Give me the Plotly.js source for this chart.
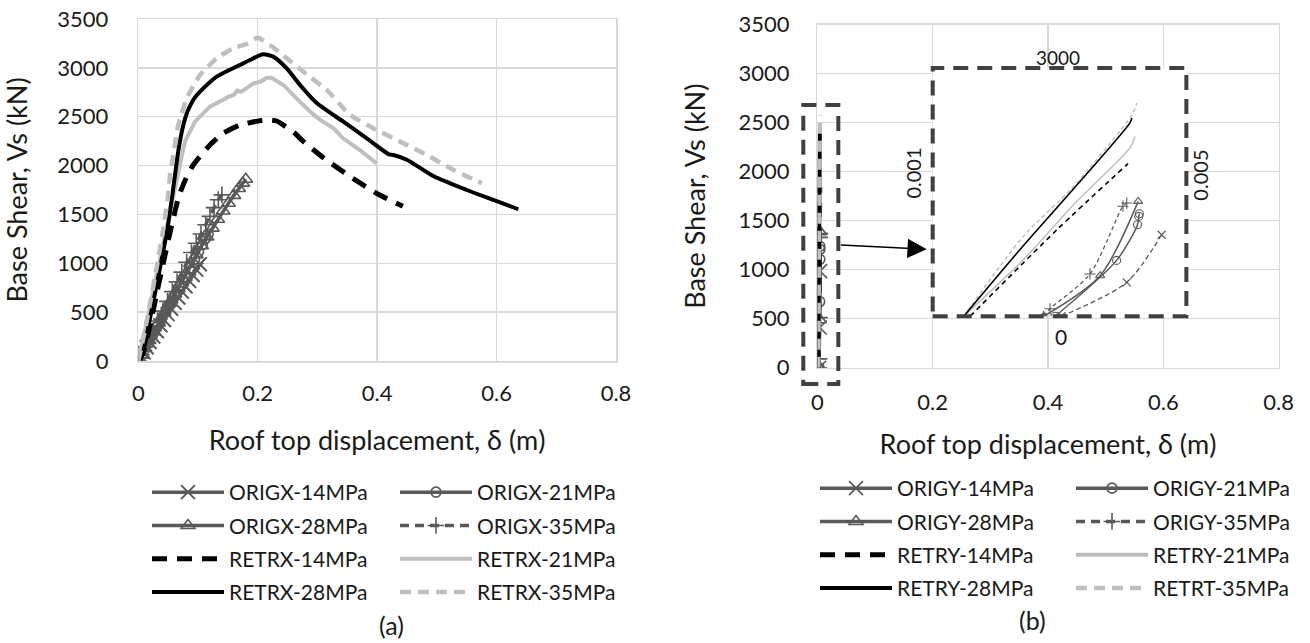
<!DOCTYPE html>
<html>
<head>
<meta charset="utf-8">
<script src="https://cdn.plot.ly/plotly-3.0.1.min.js"></script>
<style>html,body{margin:0;padding:0;background:#fff;}#chart{width:1310px;height:643px;}</style>
</head>
<body>
<div id="chart"></div>
<script>
// ---------- tick values ----------
const xTicks = [0, 0.2, 0.4, 0.6, 0.8];
const yTicks = [0, 500, 1000, 1500, 2000, 2500, 3000, 3500];

// ---------- (a) X direction ----------
const origx14_x = [0, 0.004, 0.009, 0.014, 0.019, 0.025, 0.031, 0.037, 0.043, 0.049, 0.055, 0.061, 0.067, 0.073, 0.079, 0.085, 0.091, 0.097, 0.103];
const origx14_y = [0, 40, 90, 140, 195, 250, 305, 365, 420, 480, 535, 595, 650, 710, 765, 820, 880, 935, 990];
const origx21_x = [0, 0.005, 0.011, 0.017, 0.024, 0.031, 0.038, 0.046, 0.054, 0.062, 0.070, 0.078, 0.086, 0.094, 0.101, 0.107, 0.112, 0.117];
const origx21_y = [0, 55, 120, 190, 265, 345, 420, 505, 590, 680, 770, 860, 950, 1040, 1120, 1190, 1250, 1300];
const origx28_x = [0, 0.005, 0.011, 0.018, 0.026, 0.034, 0.043, 0.052, 0.061, 0.070, 0.079, 0.088, 0.097, 0.106, 0.115, 0.124, 0.133, 0.142, 0.151, 0.160, 0.168, 0.175, 0.180];
const origx28_y = [0, 60, 130, 210, 300, 390, 490, 590, 690, 790, 890, 990, 1085, 1180, 1270, 1360, 1450, 1535, 1615, 1695, 1765, 1820, 1860];
const origx35_x = [0, 0.005, 0.011, 0.018, 0.025, 0.033, 0.041, 0.049, 0.057, 0.065, 0.073, 0.081, 0.089, 0.097, 0.105, 0.113, 0.120, 0.127, 0.134, 0.140];
const origx35_y = [0, 65, 140, 225, 310, 410, 510, 610, 710, 810, 910, 1010, 1110, 1205, 1300, 1395, 1480, 1570, 1650, 1700];

const retrx14_x = [0, 0.008, 0.021, 0.032, 0.043, 0.0545, 0.068, 0.080, 0.092, 0.120, 0.142, 0.170, 0.200, 0.221, 0.232, 0.2625, 0.2735, 0.310, 0.355, 0.401, 0.443];
const retrx14_y = [0, 82, 400, 727, 1034, 1351, 1689, 1870, 2006, 2211, 2330, 2415, 2455, 2466, 2456, 2330, 2262, 2080, 1886, 1709, 1583];
const retrx21_x = [0, 0.010, 0.020, 0.030, 0.040, 0.050, 0.060, 0.0698, 0.078, 0.095, 0.120, 0.132, 0.140, 0.150, 0.160, 0.166, 0.172, 0.182, 0.193, 0.205, 0.215, 0.223, 0.243, 0.265, 0.288, 0.304, 0.327, 0.343, 0.371, 0.399];
const retrx21_y = [0, 270, 560, 860, 1150, 1450, 1750, 2006, 2245, 2449, 2603, 2640, 2671, 2700, 2725, 2770, 2755, 2800, 2842, 2860, 2899, 2899, 2825, 2688, 2551, 2470, 2381, 2279, 2159, 2023];
const retrx28_x = [0, 0.006, 0.020, 0.039, 0.050, 0.0615, 0.067, 0.0754, 0.081, 0.0866, 0.094, 0.1034, 0.1313, 0.170, 0.187, 0.209, 0.226, 0.2486, 0.2709, 0.2988, 0.3434, 0.3826, 0.420, 0.427, 0.4496, 0.494, 0.550, 0.5947, 0.6365];
const retrx28_y = [0, 44, 450, 1034, 1400, 1904, 2150, 2415, 2530, 2610, 2690, 2756, 2910, 3029, 3081, 3139, 3115, 2995, 2825, 2640, 2449, 2279, 2115, 2108, 2060, 1893, 1750, 1648, 1553];
const retrx35_x = [0, 0.010, 0.020, 0.030, 0.040, 0.050, 0.0531, 0.0586, 0.067, 0.081, 0.1034, 0.1313, 0.159, 0.184, 0.200, 0.2206, 0.2486, 0.2764, 0.318, 0.3546, 0.3993, 0.4384, 0.483, 0.5276, 0.5752];
const retrx35_y = [0, 280, 600, 930, 1280, 1700, 1904, 2108, 2415, 2688, 2927, 3098, 3200, 3251, 3309, 3234, 3098, 2961, 2760, 2518, 2364, 2245, 2108, 1955, 1819];

// ---------- (b) Y direction (values of the enlarged inset, displacement in m) ----------
const origy14_x = [0.00303, 0.00406, 0.00461];
const origy14_y = [0, 410, 985];
const origy21_x = [0.00293, 0.00390, 0.00423, 0.00425, 0.00426];
const origy21_y = [0, 675, 1106, 1207, 1239];
const origy28_x = [0.00275, 0.00364, 0.00424];
const origy28_y = [0, 490, 1388];
const origy35_x = [0.00275, 0.00285, 0.00348, 0.00400, 0.00406];
const origy35_y = [0, 90, 511, 1330, 1368];
const retry14_x = [0.00159, 0.00296, 0.00408];
const retry14_y = [0, 1046, 1844];
const retry21_x = [0.00149, 0.00243, 0.00322, 0.00411, 0.00419];
const retry21_y = [0, 683, 1348, 2034, 2173];
const retry28_x = [0.00149, 0.00233, 0.00411, 0.00414];
const retry28_y = [0, 764, 2336, 2396];
const retry35_x = [0.00149, 0.00243, 0.00322, 0.00414, 0.00422];
const retry35_y = [0, 965, 1569, 2435, 2577];

// inset frame in main (b) axis units, inset axis ranges
const insetFrame = {x0: 0.2, x1: 0.64, y0: 525, y1: 3058};
const insetXRange = [0.001, 0.005];
const insetYRange = [0, 3000];
const smallFrame = {x0: -0.0245, x1: 0.0363, y0: -166, y1: 2681};

// ---------- styling ----------
const FONT = 'Lato, "Noto Sans", sans-serif';
const TXT = '#1a1a1a';
const DARK = '#595959';
const LIGHT = '#bfbfbf';
const GRID = '#d9d9d9';

const W = 1310, H = 643;
const domA = {x: [138.3 / W, 616 / W], y: [1 - 361 / H, 1 - 19 / H]};
const domB = {x: [817.4 / W, 1278.6 / W], y: [1 - 367.7 / H, 1 - 24.7 / H]};

function axisLin(dom, range, v) { return dom[0] + (v - range[0]) / (range[1] - range[0]) * (dom[1] - dom[0]); }
const insetDomX = [axisLin(domB.x, [0, 0.8], insetFrame.x0), axisLin(domB.x, [0, 0.8], insetFrame.x1)];
const insetDomY = [axisLin(domB.y, [0, 3500], insetFrame.y0), axisLin(domB.y, [0, 3500], insetFrame.y1)];

const traces = [];
function add(x, y, opt) { traces.push(Object.assign({x: x, y: y, type: 'scatter'}, opt)); }

// (a)
add(origx14_x, origx14_y, {name: 'ORIGX-14MPa', legend: 'legend', legendgroup: 'a1', mode: 'lines+markers',
  line: {color: DARK, width: 3.5}, marker: {symbol: 'x-thin-open', size: 14, color: DARK, line: {width: 2, color: DARK}}});
add(origx21_x, origx21_y, {name: 'ORIGX-21MPa', legend: 'legend2', legendgroup: 'a2', mode: 'lines+markers',
  line: {color: DARK, width: 3.5}, marker: {symbol: 'circle-open', size: 10, color: DARK, line: {width: 1.6, color: DARK}}});
add(origx28_x, origx28_y, {name: 'ORIGX-28MPa', legend: 'legend', legendgroup: 'a3', mode: 'lines+markers',
  line: {color: DARK, width: 3.5}, marker: {symbol: 'triangle-up-open', size: 12, color: DARK, line: {width: 1.6, color: DARK}}});
add(origx35_x, origx35_y, {name: 'ORIGX-35MPa', legend: 'legend2', legendgroup: 'a4', mode: 'lines+markers',
  line: {color: DARK, width: 3.5, dash: '9px,6px'}, marker: {symbol: 'cross-thin-open', size: 12, color: DARK, line: {width: 1.6, color: DARK}}});
add(retrx14_x, retrx14_y, {name: 'RETRX-14MPa', legend: 'legend', legendgroup: 'a5', mode: 'lines',
  line: {color: '#000', width: 5, dash: '15px,10px', shape: 'spline', smoothing: 0.5}});
add(retrx21_x, retrx21_y, {name: 'RETRX-21MPa', legend: 'legend2', legendgroup: 'a6', mode: 'lines',
  line: {color: LIGHT, width: 4}});
add(retrx28_x, retrx28_y, {name: 'RETRX-28MPa', legend: 'legend', legendgroup: 'a7', mode: 'lines',
  line: {color: '#000', width: 4, shape: 'spline', smoothing: 0.6}});
add(retrx35_x, retrx35_y, {name: 'RETRX-35MPa', legend: 'legend2', legendgroup: 'a8', mode: 'lines',
  line: {color: LIGHT, width: 4.5, dash: '11px,7px', shape: 'spline', smoothing: 0.5}});

// (b) main axes
const bMain = [
  [origy14_x, origy14_y, 'ORIGY-14MPa', 'legend3', {color: DARK, width: 3.5}, {symbol: 'x-thin-open', size: 14}],
  [origy21_x, origy21_y, 'ORIGY-21MPa', 'legend4', {color: DARK, width: 3.5}, {symbol: 'circle-open', size: 10}],
  [origy28_x, origy28_y, 'ORIGY-28MPa', 'legend3', {color: DARK, width: 3.5}, {symbol: 'triangle-up-open', size: 12}],
  [origy35_x, origy35_y, 'ORIGY-35MPa', 'legend4', {color: DARK, width: 3.5, dash: '9px,6px'}, {symbol: 'cross-thin-open', size: 12}],
  [retry14_x, retry14_y, 'RETRY-14MPa', 'legend3', {color: '#000', width: 5, dash: '15px,10px'}, null],
  [retry21_x, retry21_y, 'RETRY-21MPa', 'legend4', {color: LIGHT, width: 4}, null],
  [retry28_x, retry28_y, 'RETRY-28MPa', 'legend3', {color: '#000', width: 4}, null],
  [retry35_x, retry35_y, 'RETRT-35MPa', 'legend4', {color: LIGHT, width: 4.5, dash: '11px,7px'}, null]
];
bMain.forEach(function (s, i) {
  const o = {name: s[2], legend: s[3], legendgroup: 'b' + i, xaxis: 'x2', yaxis: 'y2', line: s[4],
    mode: s[5] ? 'lines+markers' : 'lines'};
  if (s[5]) o.marker = {symbol: s[5].symbol, size: s[5].size, color: DARK, line: {width: 1.6, color: DARK}};
  add(s[0], s[1], o);
});
// (b) enlarged inset
const bInset = [
  [retry21_x, retry21_y, {color: LIGHT, width: 1.5}, null],
  [retry35_x, retry35_y, {color: LIGHT, width: 1.5, dash: '4px,3px'}, null],
  [retry14_x, retry14_y, {color: '#000', width: 1.6, dash: '5px,4px'}, null],
  [retry28_x, retry28_y, {color: '#000', width: 1.6}, null],
  [origy14_x, origy14_y, {color: DARK, width: 1.3, dash: '5px,3px'}, 'x-thin-open'],
  [origy35_x, origy35_y, {color: DARK, width: 1.3, dash: '4px,3px'}, 'cross-thin-open'],
  [origy21_x, origy21_y, {color: DARK, width: 1.5}, 'circle-open'],
  [origy28_x, origy28_y, {color: DARK, width: 1.5}, 'triangle-up-open']
];
bInset.forEach(function (s) {
  const o = {xaxis: 'x3', yaxis: 'y3', showlegend: false, hoverinfo: 'skip',
    line: Object.assign({shape: 'spline', smoothing: 0.8}, s[2]), mode: s[3] ? 'lines+markers' : 'lines'};
  if (s[3]) o.marker = {symbol: s[3], size: 8, color: DARK, line: {width: 1.1, color: DARK}};
  add(s[0], s[1], o);
});

function mainAxis(dom, range, vals, anchor, title, standoff, lblStand) {
  return {
    domain: dom, range: range, tickvals: vals, anchor: anchor,
    showgrid: true, gridcolor: GRID, gridwidth: 1.5, zeroline: false,
    showline: true, mirror: true, linecolor: GRID, linewidth: 1.5,
    ticks: '', ticklabelstandoff: lblStand,
    tickfont: {family: FONT, size: 22, color: TXT},
    title: {text: title, font: {family: FONT, size: 27, color: TXT}, standoff: standoff},
    fixedrange: true
  };
}

const legendBase = {orientation: 'v', xanchor: 'left', yanchor: 'top', bgcolor: 'rgba(0,0,0,0)', borderwidth: 0,
  font: {family: FONT, size: 21, color: TXT}, tracegroupgap: 3, itemwidth: 72, itemsizing: 'trace'};
function leg(px, py) { return Object.assign({}, legendBase, {x: px / W, y: 1 - py / H}); }

const layout = {
  width: W, height: H, margin: {l: 0, r: 0, t: 0, b: 0},
  paper_bgcolor: '#fff', plot_bgcolor: '#fff',
  font: {family: FONT, color: TXT},
  showlegend: true,
  xaxis: mainAxis(domA.x, [0, 0.8], xTicks, 'y', 'Roof top displacement, δ (m)', 26, 12),
  yaxis: mainAxis(domA.y, [0, 3500], yTicks, 'x', 'Base Shear, Vs (kN)', 22, 24),
  xaxis2: mainAxis(domB.x, [0, 0.8], xTicks, 'y2', 'Roof top displacement, δ (m)', 21, 14),
  yaxis2: mainAxis(domB.y, [0, 3500], yTicks, 'x2', 'Base Shear, Vs (kN)', 25, 22),
  xaxis3: {domain: insetDomX, range: insetXRange, anchor: 'y3', visible: false, fixedrange: true},
  yaxis3: {domain: insetDomY, range: insetYRange, anchor: 'x3', visible: false, fixedrange: true},
  legend: leg(147, 472),
  legend2: leg(395, 472),
  legend3: leg(815, 468),
  legend4: leg(1071, 468),
  shapes: [
    {type: 'rect', xref: 'x3 domain', yref: 'y3 domain', x0: 0, x1: 1, y0: 0, y1: 1, layer: 'above',
      line: {color: '#404040', width: 4, dash: '15px,9px'}},
    {type: 'rect', xref: 'x2 domain', yref: 'y2 domain', x0: smallFrame.x0 / 0.8, x1: smallFrame.x1 / 0.8,
      y0: smallFrame.y0 / 3500, y1: smallFrame.y1 / 3500, layer: 'above',
      line: {color: '#404040', width: 4, dash: '15px,9px'}}
  ],
  annotations: [
    {xref: 'x2', yref: 'y2', x: 0.1896, y: 1208, axref: 'x2', ayref: 'y2', ax: 0.038, ay: 1252, text: '',
      showarrow: true, arrowhead: 2, arrowsize: 2.4, arrowwidth: 1.6, arrowcolor: '#000'},
    {xref: 'x2', yref: 'y2', x: 0.418, y: 3167, text: '3000', showarrow: false, font: {family: FONT, size: 19, color: TXT}},
    {xref: 'x2', yref: 'y2', x: 0.422, y: 316, text: '0', showarrow: false, font: {family: FONT, size: 21, color: TXT}},
    {xref: 'x2', yref: 'y2', x: 0.1664, y: 1984, text: '0.001', textangle: -90, showarrow: false, font: {family: FONT, size: 20, color: TXT}},
    {xref: 'x2', yref: 'y2', x: 0.6637, y: 1960, text: '0.005', textangle: -90, showarrow: false, font: {family: FONT, size: 20, color: TXT}},
    {xref: 'paper', yref: 'paper', x: 376.7 / W, y: 0, yanchor: 'bottom', yshift: 1, text: '(a)', showarrow: false, font: {family: FONT, size: 25, color: TXT}},
    {xref: 'paper', yref: 'paper', x: 1048 / W, y: 0, yanchor: 'bottom', yshift: 6, text: '(b)', showarrow: false, font: {family: FONT, size: 25, color: TXT}}
  ]
};

Plotly.newPlot('chart', traces, layout, {staticPlot: true, displayModeBar: false});
</script>
</body>
</html>
